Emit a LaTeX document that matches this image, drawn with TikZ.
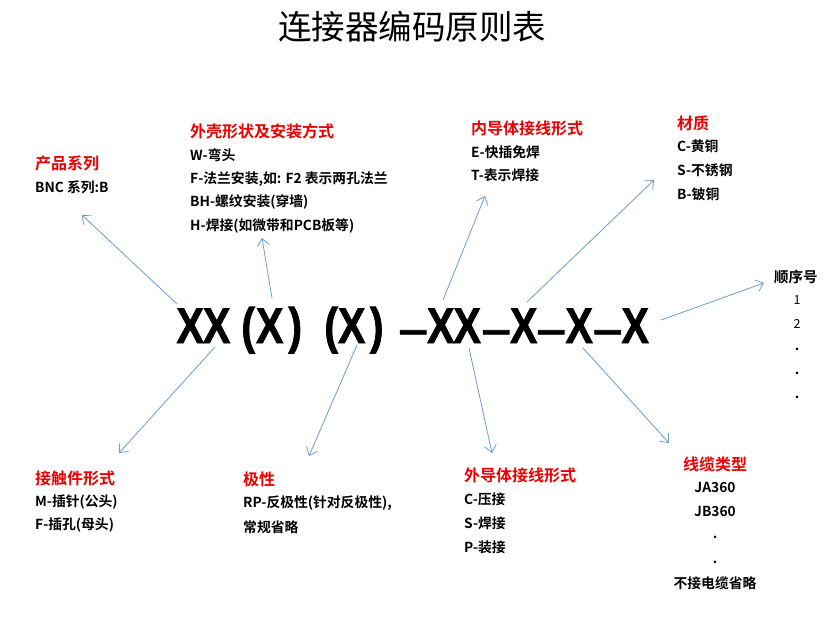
\documentclass[tikz,border=0pt]{standalone}
\usepackage{fontspec}
\usetikzlibrary{arrows.meta}
\setmainfont{Noto Sans CJK SC}[BoldFont={Noto Sans CJK SC Bold}]
\newfontfamily\codefont{Liberation Sans Bold}[FakeBold=1.6]
\definecolor{arrowblue}{RGB}{110,155,205}
\definecolor{headred}{RGB}{235,0,0}
\newcommand\titlefont{\fontsize{33.5}{38}\selectfont}
\newcommand\hfont{\bfseries\fontsize{16}{19}\selectfont}
\newcommand\bfont{\bfseries\fontsize{13.8}{16}\selectfont}
\newcommand\cg[1]{\makebox[0pt][c]{\scalebox{0.82}[1]{#1}}}
\newcommand\cd{\makebox[0pt][c]{\scalebox{1.05}[0.8]{–}}}
\tikzset{
  head/.style={text=headred, font=\hfont, anchor=west, inner sep=0pt},
  chead/.style={text=headred, font=\hfont, inner sep=0pt},
  body/.style={font=\bfont, anchor=west, inner sep=0pt},
  cbody/.style={font=\bfont, inner sep=0pt},
  arr/.style={draw=arrowblue, line width=0.8pt, -{Straight Barb[length=7pt,width=12pt]}},
}
\begin{document}
\begin{tikzpicture}[x=1pt,y=-1pt]
\useasboundingbox[fill=white] (0,0) rectangle (834,619);
% title
\node[font=\titlefont, inner sep=0pt] (title) at (412,27) {连接器编码原则表};
% code XX(X) (X)-XX-X-X-X, each glyph set at its place
\node[anchor=base west, inner sep=0pt, font=\codefont\fontsize{50}{60}\selectfont] (code) at (190,343)
  {\cg{X}\hspace{26.5pt}\cg{X}\hspace{31.5pt}\cg{(}\hspace{21.5pt}\cg{X}\hspace{25.5pt}\cg{)}%
   \hspace{36pt}\cg{(}\hspace{20.5pt}\cg{X}\hspace{25pt}\cg{)}\hspace{36.5pt}\cd\hspace{27.5pt}%
   \cg{X}\hspace{26.5pt}\cg{X}\hspace{29pt}\cd\hspace{27.5pt}\cg{X}\hspace{27.5pt}\cd\hspace{28pt}%
   \cg{X}\hspace{28.5pt}\cd\hspace{27.5pt}\cg{X}};
% product series
\node[head] (h1) at (35,163) {产品系列};
\node[body] (b1) at (35,187) {BNC 系列:B};
% housing
\node[head] (h2) at (190,131) {外壳形状及安装方式};
\node[body] (b2a) at (190,155) {W-弯头};
\node[body] (b2b) at (190,179) {F-法兰安装,如: F2 表示两孔法兰};
\node[body] (b2c) at (190,202) {BH-螺纹安装(穿墙)};
\node[body] (b2d) at (190,226) {H-焊接(如微带和PCB板等)};
% inner conductor
\node[head] (h3) at (471,128) {内导体接线形式};
\node[body] (b3a) at (471,152) {E-快插免焊};
\node[body] (b3b) at (471,175) {T-表示焊接};
% material
\node[head] (h4) at (677,123) {材质};
\node[body] (b4a) at (677,146) {C-黄铜};
\node[body] (b4b) at (677,170) {S-不锈钢};
\node[body] (b4c) at (677,194) {B-铍铜};
% serial
\node[body, font=\bfseries\fontsize{14.5}{17}\selectfont] (h5) at (774,277) {顺序号};
\node[cbody, font=\fontsize{12.5}{14}\selectfont] (s1) at (797,300) {1};
\node[cbody, font=\fontsize{12.5}{14}\selectfont] (s2) at (797,324) {2};
\node[cbody] (s3) at (797,349) {.};
\node[cbody] (s4) at (797,373) {.};
\node[cbody] (s5) at (797,397) {.};
% contact
\node[head] (h6) at (35,478) {接触件形式};
\node[body] (b6a) at (35,502) {M-插针(公头)};
\node[body] (b6b) at (35,525) {F-插孔(母头)};
% polarity
\node[head] (h7) at (243,479) {极性};
\node[body] (b7a) at (243,503) {RP-反极性(针对反极性),};
\node[body] (b7b) at (243,527) {常规省略};
% outer conductor
\node[head] (h8) at (464,475) {外导体接线形式};
\node[body] (b8a) at (464,499) {C-压接};
\node[body] (b8b) at (464,523) {S-焊接};
\node[body] (b8c) at (464,547) {P-装接};
% cable
\node[chead] (h9) at (715,464) {线缆类型};
\node[cbody] (c9a) at (715,487) {JA360};
\node[cbody] (c9b) at (715,511) {JB360};
\node[cbody] (c9c) at (715,537) {.};
\node[cbody] (c9d) at (715,562) {.};
\node[cbody] (c9e) at (715,583) {不接电缆省略};
% connector end points
\coordinate (p1) at (177,304); \coordinate (q1) at (82,215);
\coordinate (p2) at (272,298); \coordinate (q2) at (262,238);
\coordinate (p3) at (443,300); \coordinate (q3) at (485,196);
\coordinate (p4) at (527,302); \coordinate (q4) at (654,180);
\coordinate (p5) at (661,320); \coordinate (q5) at (764,283);
\coordinate (p6) at (215,347); \coordinate (q6) at (119,453);
\coordinate (p7) at (357,345); \coordinate (q7) at (309,456);
\coordinate (p8) at (469,348); \coordinate (q8) at (492,453);
\coordinate (p9) at (583,348); \coordinate (q9) at (669,443);
\foreach \i in {1,...,9} \draw[arr] (p\i) -- (q\i);
\end{tikzpicture}
\end{document}
